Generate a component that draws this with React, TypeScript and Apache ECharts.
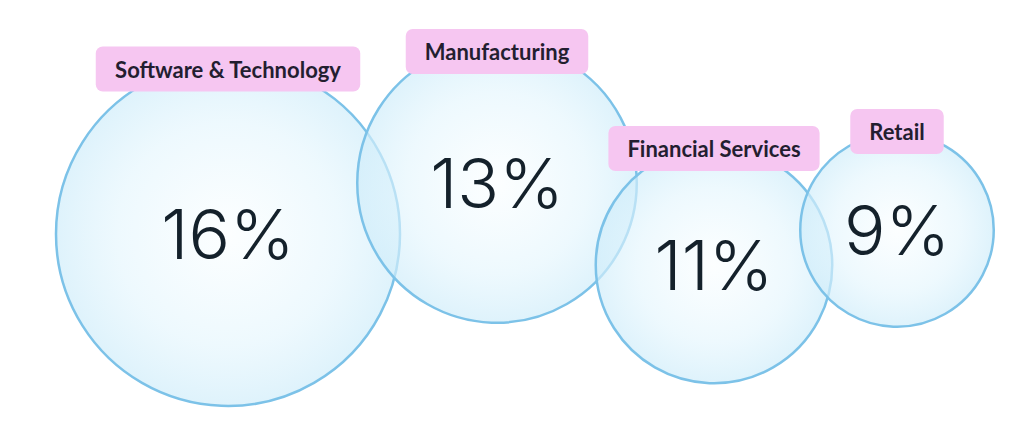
import React, { useEffect, useRef } from "react";
import * as echarts from "echarts";

// Industry shares (percent)
const industries = ["Software & Technology", "Manufacturing", "Financial Services", "Retail"];
const shares = [16, 13, 11, 9];

// Bubble layout (packed-bubble centre positions, in layout units of the hidden axes)
const bubbleX = [228, 497, 714, 897];
const bubbleY = [234, 183, 265, 230];
// Tag (category name) positions
const tagY = [69, 51.5, 148.5, 131.5];

export default function App() {
  const ref = useRef<HTMLDivElement>(null);

  useEffect(() => {
    if (!ref.current) return;
    const chart = echarts.init(ref.current, null, { renderer: "svg" });

    const bubbleData = industries.map((name, i) => ({
      name,
      value: [bubbleX[i], bubbleY[i], shares[i]],
    }));
    const tagData = industries.map((name, i) => ({
      name,
      value: [bubbleX[i], tagY[i]],
    }));

    const fill = new echarts.graphic.RadialGradient(0.5, 0.5, 0.5, [
      { offset: 0, color: "rgba(250,254,255,0.55)" },
      { offset: 0.65, color: "rgba(226,245,253,0.6)" },
      { offset: 1, color: "rgba(208,237,250,0.7)" },
    ]);

    chart.setOption({
      animation: false,
      backgroundColor: "#ffffff",
      grid: { left: 0, right: 0, top: 0, bottom: 0 },
      xAxis: { type: "value", min: 0, max: 1024, show: false },
      yAxis: { type: "value", min: 0, max: 429, inverse: true, show: false },
      series: [
        {
          type: "scatter",
          data: bubbleData,
          symbol: "circle",
          symbolSize: (val: number[]) => val[2] * 21.5,
          itemStyle: {
            color: fill,
            borderColor: "#7cc2e8",
            borderWidth: 2.5,
            opacity: 1,
          },
          label: {
            show: true,
            position: "inside",
            formatter: (p: any) => `${p.value[2]}%`,
            fontFamily: "Inter",
            fontWeight: 300,
            fontSize: 69,
            color: "#14212b",
          },
          emphasis: { disabled: true },
          z: 2,
        },
        {
          type: "scatter",
          data: tagData,
          symbolSize: 1,
          itemStyle: { color: "rgba(0,0,0,0)", opacity: 1 },
          label: {
            show: true,
            position: "inside",
            formatter: (p: any) => p.name,
            fontFamily: "Lato",
            fontWeight: 700,
            fontSize: 22,
            lineHeight: 22,
            color: "#231e30",
            backgroundColor: "#f6c6f1",
            padding: [12, 19, 11, 19],
            borderRadius: 7,
          },
          emphasis: { disabled: true },
          z: 5,
        },
      ],
    });

    return () => chart.dispose();
  }, []);

  return (
    <div
      ref={ref}
      style={{ position: "fixed", left: 0, top: 0, width: 1024, height: 429, background: "#fff" }}
    />
  );
}
